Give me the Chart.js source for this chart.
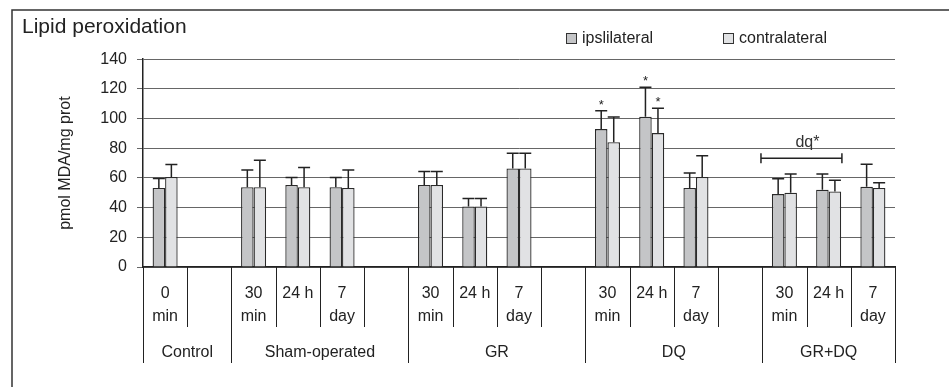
<!DOCTYPE html>
<html>
<head>
<meta charset="utf-8">
<script src="https://cdn.jsdelivr.net/npm/chart.js@4.4.1/dist/chart.umd.min.js"></script>
<style>
  html, body { margin: 0; padding: 0; background: #fff; }
  #wrap { width: 949px; height: 387px; }
</style>
</head>
<body>
<div id="wrap"><canvas id="lipidChart"></canvas></div>
<script>
// time points, empty slots separate the groups
const timeLabels = [['0', 'min'], '', ['30', 'min'], '24 h', ['7', 'day'], '',
  ['30', 'min'], '24 h', ['7', 'day'], '', ['30', 'min'], '24 h', ['7', 'day'], '',
  ['30', 'min'], '24 h', ['7', 'day']];
const groupNames = ['Control', 'Sham-operated', 'GR', 'DQ', 'GR+DQ'];
const groupEdges = [0, 2, 6, 10, 14, 17];

const ipsi = [53.2, null, 53.8, 55.2, 53.8, null, 55.2, 40.8, 66.4, null, 92.9, 101.3, 53.2, null, 49.1, 52, 54];
const ipsiSD = [6.4, null, 11.5, 5.1, 6.5, null, 9.1, 5.4, 10.3, null, 12.3, 19.8, 10.1, null, 10.3, 10.6, 15.3];
const ipsiStar = [0, 0, 0, 0, 0, 0, 0, 0, 0, 0, 1, 1, 0, 0, 0, 0, 0];

const contra = [60.6, null, 53.8, 53.8, 53.2, null, 55.2, 40.8, 66.4, null, 84.1, 90.2, 60.6, null, 50, 50.9, 53.2];
const contraSD = [8.4, null, 18.2, 13.2, 12.1, null, 9.1, 5.4, 10.3, null, 17, 16.8, 14.3, null, 12.6, 7.6, 3.5];
const contraStar = [0, 0, 0, 0, 0, 0, 0, 0, 0, 0, 0, 1, 0, 0, 0, 0, 0];

const yTicks = { min: 0, max: 140, step: 20 };
// GR+DQ 30 min vs 24 h comparison
const dqBracket = { from: 14, to: 15, value: 73.3, text: 'dq*' };

const FONT = "'Liberation Sans', Arial, sans-serif";
const INK = '#222';

const framePlugin = {
  id: 'frame',
  beforeDraw(chart) {
    const c = chart.ctx;
    c.save();
    c.fillStyle = '#fff';
    c.fillRect(0, 0, chart.width, chart.height);
    c.strokeStyle = '#333';
    c.lineWidth = 1.5;
    c.beginPath();
    c.moveTo(12, chart.height);
    c.lineTo(12, 10);
    c.lineTo(chart.width, 10);
    c.stroke();
    c.restore();
  }
};

const errorBarPlugin = {
  id: 'errorBars',
  afterDatasetsDraw(chart) {
    const c = chart.ctx;
    const y = chart.scales.y;
    const sds = [ipsiSD, contraSD];
    const stars = [ipsiStar, contraStar];
    c.save();
    c.strokeStyle = INK;
    c.lineWidth = 1.5;
    c.fillStyle = INK;
    c.font = '13px ' + FONT;
    c.textAlign = 'center';
    c.textBaseline = 'alphabetic';
    chart.data.datasets.forEach((ds, di) => {
      chart.getDatasetMeta(di).data.forEach((bar, i) => {
        const v = ds.data[i], sd = sds[di][i];
        if (v == null || sd == null) return;
        const top = y.getPixelForValue(v + sd);
        c.beginPath();
        c.moveTo(bar.x, bar.y);
        c.lineTo(bar.x, top);
        c.moveTo(bar.x - 6, top);
        c.lineTo(bar.x + 6, top);
        c.stroke();
        if (stars[di][i]) c.fillText('*', bar.x, top - 2);
      });
    });

    // bracket
    const x = chart.scales.x;
    const slot = x.getPixelForValue(1) - x.getPixelForValue(0);
    const x1 = x.getPixelForValue(dqBracket.from) - 0.53 * slot;
    const x2 = x.getPixelForValue(dqBracket.to) + 0.3 * slot;
    const by = y.getPixelForValue(dqBracket.value);
    c.lineWidth = 1.5;
    c.beginPath();
    c.moveTo(x1, by); c.lineTo(x2, by);
    c.moveTo(x1, by - 5); c.lineTo(x1, by + 5);
    c.moveTo(x2, by - 5); c.lineTo(x2, by + 5);
    c.stroke();
    c.font = '16px ' + FONT;
    c.fillStyle = '#333';
    c.fillText(dqBracket.text, (x1 + x2) / 2 + 6, by - 11);
    c.restore();
  }
};

const axisGroupPlugin = {
  id: 'axisGroups',
  afterDraw(chart) {
    const c = chart.ctx;
    const x = chart.scales.x;
    const bottom = chart.chartArea.bottom;
    c.save();
    c.strokeStyle = INK;
    c.lineWidth = 1;
    for (let b = 0; b <= timeLabels.length; b++) {
      const px = Math.round(x.getPixelForValue(b - 0.5)) + 0.5;
      const long = groupEdges.includes(b);
      c.beginPath();
      c.moveTo(px, bottom);
      c.lineTo(px, long ? bottom + 96 : bottom + 60);
      c.stroke();
    }
    c.fillStyle = INK;
    c.font = '16px ' + FONT;
    c.textAlign = 'center';
    c.textBaseline = 'middle';
    groupNames.forEach((name, g) => {
      const a = x.getPixelForValue(groupEdges[g] - 0.5);
      const b = x.getPixelForValue(groupEdges[g + 1] - 0.5);
      c.fillText(name, (a + b) / 2, bottom + 86);
    });

    // legend
    const legendX = [566, 723];
    c.textAlign = 'left';
    chart.data.datasets.forEach((ds, i) => {
      c.fillStyle = ds.backgroundColor;
      c.fillRect(legendX[i], 33, 10, 10);
      c.strokeStyle = '#333';
      c.lineWidth = 1;
      c.strokeRect(legendX[i] + 0.5, 33.5, 10, 10);
      c.fillStyle = INK;
      c.fillText(ds.label, legendX[i] + 16, 38.5);
    });
    c.restore();
  }
};

new Chart(document.getElementById('lipidChart'), {
  type: 'bar',
  data: {
    labels: timeLabels,
    datasets: [
      {
        label: 'ipslilateral',
        data: ipsi,
        backgroundColor: '#c4c5c7',
        borderColor: '#2a2a2a',
        borderWidth: 1.3,
        barPercentage: 1,
        categoryPercentage: 0.566
      },
      {
        label: 'contralateral',
        data: contra,
        backgroundColor: '#e1e2e4',
        borderColor: '#2a2a2a',
        borderWidth: 1.3,
        barPercentage: 1,
        categoryPercentage: 0.566
      }
    ]
  },
  options: {
    responsive: true,
    maintainAspectRatio: false,
    animation: false,
    layout: { padding: { left: 22, right: 54, top: 10, bottom: 10 } },
    plugins: {
      legend: { display: false },
      tooltip: { enabled: false },
      title: {
        display: true,
        text: 'Lipid peroxidation',
        align: 'start',
        color: INK,
        font: { family: FONT, size: 21, weight: 'normal', lineHeight: 1.2 },
        padding: { top: 5, bottom: 19 }
      }
    },
    scales: {
      x: {
        grid: { display: false, drawTicks: false },
        border: { display: true, color: INK, width: 1.5 },
        ticks: {
          autoSkip: false,
          maxRotation: 0,
          minRotation: 0,
          padding: 15,
          color: INK,
          font: { family: FONT, size: 16, lineHeight: 1.45 }
        },
        afterFit: s => { s.height = 110; }
      },
      y: {
        min: yTicks.min,
        max: yTicks.max,
        ticks: {
          stepSize: yTicks.step,
          padding: 10,
          color: INK,
          font: { family: FONT, size: 16 }
        },
        grid: { color: '#666', lineWidth: 1, tickLength: 6 },
        border: { color: INK, width: 1.5 },
        title: {
          display: true,
          text: 'pmol MDA/mg prot',
          color: INK,
          font: { family: FONT, size: 16, lineHeight: 1.2 },
          padding: { top: 34, bottom: 0 }
        },
        afterFit: s => { s.width = 121; }
      }
    }
  },
  plugins: [framePlugin, errorBarPlugin, axisGroupPlugin]
});
</script>
</body>
</html>
